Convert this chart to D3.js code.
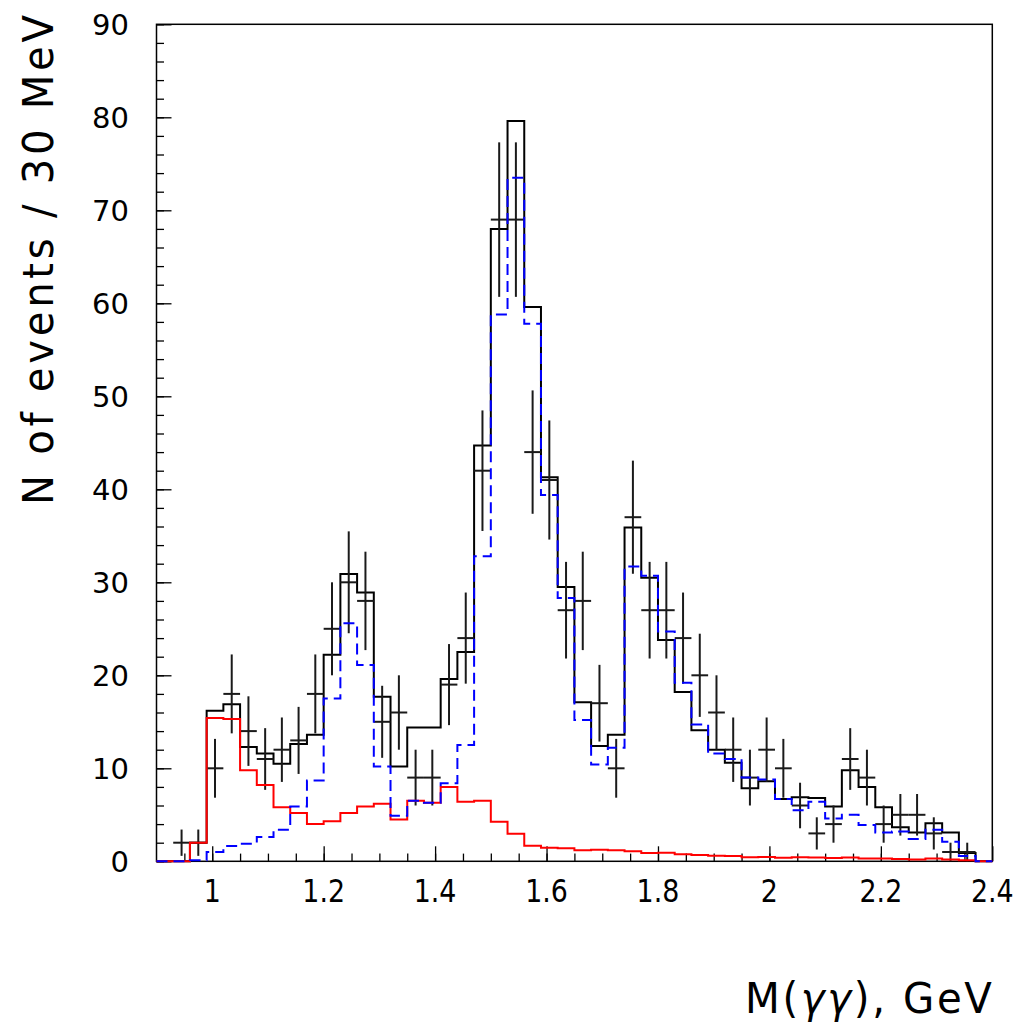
<!DOCTYPE html>
<html>
<head>
<meta charset="utf-8">
<script src="https://cdn.jsdelivr.net/npm/d3@7"></script>
<style>
  body { margin: 0; background: #fff; }
  svg { display: block; }
  .sans { font-family: 'DejaVu Sans', sans-serif; }
</style>
</head>
<body>
<svg id="chart" width="1021" height="1026"></svg>
<script>
// Binning: 50 bins of 30 MeV, starting at 0.90 GeV
const binStart = 0.90;
const binWidth = 0.03;

// Total fit (black histogram), one value per bin
const totalFit = [
  0, 0, 2.0, 16.2, 16.9, 12.3, 11.6, 10.5, 12.6, 13.6,
  22.2, 30.9, 28.9, 17.7, 10.2, 14.4, 14.4, 19.6, 22.5, 44.7,
  68.0, 79.6, 59.6, 41.3, 29.5, 17.1, 12.4, 13.6, 35.9, 30.5,
  23.8, 18.2, 14.1, 12.0, 10.6, 7.85, 8.6, 6.7, 6.9, 6.8,
  5.9, 9.8, 8.0, 5.8, 3.65, 3.1, 4.1, 3.1, 0.9, 0
];

// Resonant contribution (blue dashed histogram)
const resonant = [
  0, 0, 0.1, 1.0, 1.65, 1.9, 2.6, 3.4, 5.9, 8.7,
  17.5, 25.6, 21.1, 10.2, 4.9, 6.5, 6.3, 8.4, 12.5, 32.8,
  58.8, 73.5, 57.8, 39.4, 28.3, 15.2, 10.4, 12.2, 31.7, 30.7,
  24.7, 19.2, 14.7, 11.6, 11.0, 9.0, 8.8, 6.7, 5.5, 6.4,
  4.6, 5.0, 3.9, 3.1, 3.2, 2.4, 3.4, 2.1, 0.57, 0
];

// Background contribution (red histogram)
const background = [
  0, 0, 2.0, 15.4, 15.3, 9.8, 8.2, 5.8, 5.2, 4.0,
  4.3, 5.2, 5.9, 6.2, 4.5, 6.5, 6.3, 8.0, 6.4, 6.5,
  4.26, 2.97, 1.68, 1.46, 1.4, 1.18, 1.25, 1.18, 1.07, 0.89,
  0.91, 0.75, 0.68, 0.6, 0.57, 0.43, 0.46, 0.39, 0.43, 0.4,
  0.35, 0.4, 0.3, 0.3, 0.25, 0.2, 0.3, 0.2, 0.1, 0
];

// Observed events per bin (null = no entry drawn)
const observed = [
  null, 2, 2, 10, 18, 14, 11, 12, 13, 18,
  25, 30, 28, 15, 16, 9, 9, 19, 24, 42,
  69, 69, 44, 41, 27, 28, 17, 10, 37, 27,
  27, 24, 20, 16, 12, 9, 12, 10, 6, 3,
  4, 11, 9, 4, 5, 5, 3, 1, 1, null
];

const xTickValues = [1.0, 1.2, 1.4, 1.6, 1.8, 2.0, 2.2, 2.4];
const xTickLabels = ["1", "1.2", "1.4", "1.6", "1.8", "2", "2.2", "2.4"];
const yTickValues = [0, 10, 20, 30, 40, 50, 60, 70, 80, 90];
const yTickLabels = ["0", "10", "20", "30", "40", "50", "60", "70", "80", "90"];

const svg = d3.select("#chart");
svg.append("rect").attr("width", 1021).attr("height", 1026).attr("fill", "#fff");

const x = d3.scaleLinear().domain([0.9, 2.4]).range([156.5, 992.3]);
const y = d3.scaleLinear().domain([0, 90]).range([861.3, 24.3]);

const lowEdge = i => binStart + binWidth * i;

// Frame
svg.append("rect")
  .attr("x", x(0.9)).attr("y", y(90))
  .attr("width", x(2.4) - x(0.9)).attr("height", y(0) - y(90))
  .attr("fill", "none").attr("stroke", "#000").attr("stroke-width", 1.5);

// Y ticks (inside the frame)
const yMinor = d3.range(0, 91, 2);
svg.append("g").attr("transform", `translate(${x(0.9)},0)`)
  .call(d3.axisRight(y).tickValues(yMinor).tickSize(7.5).tickFormat(""))
  .call(g => g.select(".domain").remove())
  .selectAll("line").attr("stroke", "#000").attr("stroke-width", 1.3);
svg.append("g").attr("transform", `translate(${x(0.9)},0)`)
  .call(d3.axisRight(y).tickValues(yTickValues).tickSize(15).tickFormat(""))
  .call(g => g.select(".domain").remove())
  .selectAll("line").attr("stroke", "#000").attr("stroke-width", 1.3);

// X ticks (inside the frame)
const xMinor = d3.range(0, 30).map(i => 0.95 + 0.05 * i).filter(v => v < 2.4);
svg.append("g").attr("transform", `translate(0,${y(0)})`)
  .call(d3.axisTop(x).tickValues(xMinor).tickSize(7.7).tickFormat(""))
  .call(g => g.select(".domain").remove())
  .selectAll("line").attr("stroke", "#000").attr("stroke-width", 1.3);
svg.append("g").attr("transform", `translate(0,${y(0)})`)
  .call(d3.axisTop(x).tickValues(xTickValues).tickSize(15).tickFormat(""))
  .call(g => g.select(".domain").remove())
  .selectAll("line").attr("stroke", "#000").attr("stroke-width", 1.3);

// Tick labels
svg.append("g").selectAll("text").data(yTickValues).join("text")
  .attr("class", "sans")
  .attr("x", 129).attr("y", d => y(d))
  .attr("dy", "0.36em")
  .attr("text-anchor", "end")
  .attr("font-size", 29)
  .text((d, i) => yTickLabels[i]);

// Narrow x labels: horizontally compressed glyphs
svg.append("g").selectAll("text").data(xTickValues).join("text")
  .attr("class", "sans")
  .attr("transform", d => `translate(${x(d)},902) scale(0.84,1)`)
  .attr("text-anchor", "middle")
  .attr("font-size", 32)
  .text((d, i) => xTickLabels[i]);

// Narrow title text filling a given length from (tx, ty)
function narrowTitle(sel, tx, ty, rot, width, sx) {
  const n = sel.text().length;
  const w = sel.node().getComputedTextLength();
  const ls = Math.max(0, (width / sx - w) / n);
  sel.attr("letter-spacing", ls);
  const w2 = sel.node().getComputedTextLength() - ls;
  sel.attr("transform", `translate(${tx},${ty}) rotate(${rot}) scale(${width / w2},1)`);
}

// Axis titles
const yt = svg.append("text")
  .attr("class", "sans")
  .attr("text-anchor", "start")
  .attr("font-size", 42)
  .text("N of events / 30 MeV");
narrowTitle(yt, 53, 505, -90, 490, 0.95);

const xt = svg.append("text")
  .attr("class", "sans")
  .attr("text-anchor", "start")
  .attr("font-size", 42);
xt.append("tspan").text("M(");
xt.append("tspan").attr("font-style", "italic").text("γγ");
xt.append("tspan").text("), GeV");
narrowTitle(xt, 745, 1013, 0, 247, 0.95);

// Step histogram helper
const stepLine = d3.line()
  .x(d => x(d[0]))
  .y(d => y(d[1]))
  .curve(d3.curveStepAfter);
const stepPoints = vals => {
  const pts = vals.map((v, i) => [lowEdge(i), v]);
  pts.push([lowEdge(vals.length), vals[vals.length - 1]]);
  return pts;
};

// Total fit
svg.append("path")
  .attr("d", stepLine(stepPoints(totalFit)))
  .attr("fill", "none").attr("stroke", "#000").attr("stroke-width", 2);

// Observed points with Poisson errors
const pts = observed.map((n, i) => ({ n, i })).filter(d => d.n !== null);
const gData = svg.append("g").attr("stroke", "#1a1a1a").attr("stroke-width", 2);
gData.selectAll("line.v").data(pts).join("line").attr("class", "v")
  .attr("x1", d => x(lowEdge(d.i) + binWidth / 2))
  .attr("x2", d => x(lowEdge(d.i) + binWidth / 2))
  .attr("y1", d => y(d.n - Math.sqrt(d.n)))
  .attr("y2", d => y(d.n + Math.sqrt(d.n)));
gData.selectAll("line.h").data(pts).join("line").attr("class", "h")
  .attr("x1", d => x(lowEdge(d.i)))
  .attr("x2", d => x(lowEdge(d.i + 1)))
  .attr("y1", d => y(d.n))
  .attr("y2", d => y(d.n));

// Background
svg.append("path")
  .attr("d", stepLine(stepPoints(background)))
  .attr("fill", "none").attr("stroke", "#ff0000").attr("stroke-width", 2);

// Resonant contribution
svg.append("path")
  .attr("d", stepLine(stepPoints(resonant)))
  .attr("fill", "none").attr("stroke", "#0000ff").attr("stroke-width", 2)
  .attr("stroke-dasharray", "11,6");
</script>
</body>
</html>
